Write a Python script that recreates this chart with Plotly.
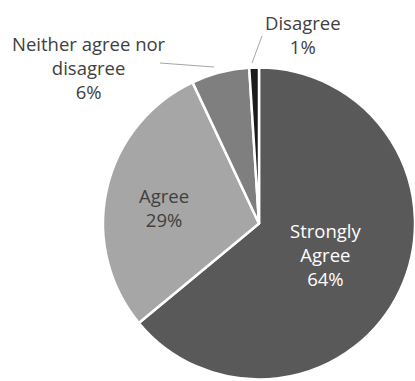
import plotly.graph_objects as go

categories = ["Strongly Agree", "Agree", "Neither agree nor disagree", "Disagree"]
percent = [64, 29, 6, 1]
slice_colors = ["#595959", "#a6a6a6", "#7f7f7f", "#1c1c1c"]
label_lines = [["Strongly", "Agree"], ["Agree"], ["Neither agree nor", "disagree"], ["Disagree"]]

W, H = 415, 381

def px(x):
    return x / W

def py(y):
    return 1 - y / H

fig = go.Figure(go.Pie(
    labels=categories,
    values=percent,
    sort=False,
    direction="clockwise",
    rotation=0,
    marker=dict(colors=slice_colors, line=dict(color="white", width=2.5)),
    textinfo="none",
    hoverinfo="label+percent",
    showlegend=False,
    domain=dict(x=[px(103), 1.0], y=[py(380), py(67)]),
))

FONT = "Open Sans, Noto Sans, sans-serif"
label_pos = [(325, 254), (164, 207), (89, 67), (303, 34)]
label_colors = ["#ffffff", "#404040", "#404040", "#404040"]

for lines, pct, (x, y), col in zip(label_lines, percent, label_pos, label_colors):
    fig.add_annotation(
        x=px(x), y=py(y), xref="paper", yref="paper",
        text="<br>".join(lines + [f"{pct}%"]),
        showarrow=False, xanchor="center", yanchor="middle",
        font=dict(family=FONT, size=18.5, color=col),
        align="center",
    )

leader_lines = [((160, 63), (214, 67)), ((262, 36), (252, 63))]
for (x0, y0), (x1, y1) in leader_lines:
    fig.add_shape(type="line", xref="paper", yref="paper",
                  x0=px(x0), y0=py(y0), x1=px(x1), y1=py(y1),
                  line=dict(color="#a6a6a6", width=1))

fig.update_layout(
    width=W, height=H,
    margin=dict(l=0, r=0, t=0, b=0),
    paper_bgcolor="white", plot_bgcolor="white",
)

fig.write_html("out.html")
